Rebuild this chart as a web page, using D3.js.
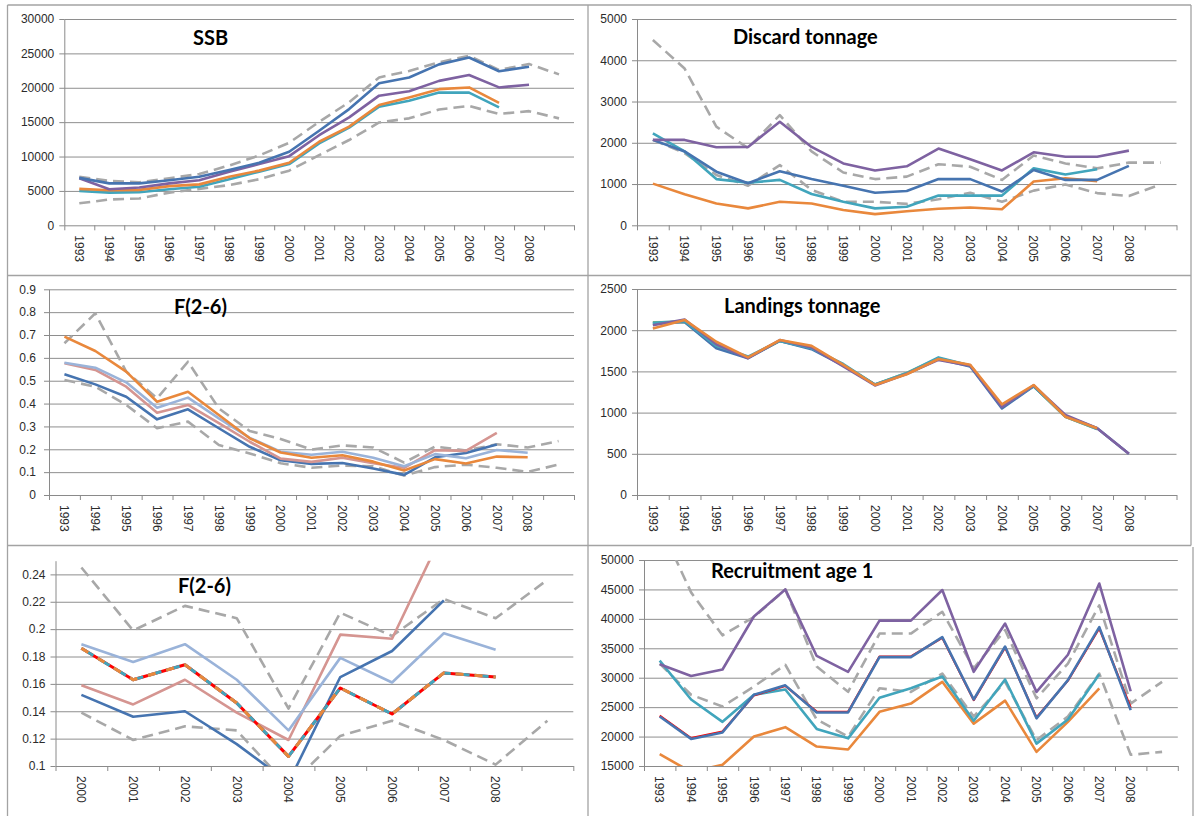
<!DOCTYPE html>
<html>
<head>
<meta charset="utf-8">
<script src="https://cdnjs.cloudflare.com/ajax/libs/d3/7.8.5/d3.min.js"></script>
<style>
  body { margin: 0; background: #fff; }
  svg { display: block; }
</style>
</head>
<body>
<svg id="chart" width="1199" height="816"></svg>
<script>
// categories
const years = ['1993','1994','1995','1996','1997','1998','1999','2000','2001','2002','2003','2004','2005','2006','2007','2008',''];
const yearsRecent = ['2000','2001','2002','2003','2004','2005','2006','2007','2008',''];

// tick values
const ssbTicks = [0, 5000, 10000, 15000, 20000, 25000, 30000];
const discardTicks = [0, 1000, 2000, 3000, 4000, 5000];
const fTicks = [0, 0.1, 0.2, 0.3, 0.4, 0.5, 0.6, 0.7, 0.8, 0.9];
const landingsTicks = [0, 500, 1000, 1500, 2000, 2500];
const fRecentTicks = [0.1, 0.12, 0.14, 0.16, 0.18, 0.2, 0.22, 0.24];
const recruitTicks = [15000, 20000, 25000, 30000, 35000, 40000, 45000, 50000];

// SSB
const ssbBlue   = [6900, 6100, 6100, 6550, 7050, 8050, 9100, 10700, 13750, 16900, 20650, 21500, 23400, 24400, 22400, 23050, null];
const ssbPurple = [6850, 5250, 5500, 6100, 6550, 7800, 8900, 10050, 13100, 15700, 18850, 19500, 21000, 21850, 20050, 20450, null];
const ssbOrange = [5300, 5100, 5150, 5700, 5950, 7050, 7950, 9100, 12150, 14350, 17500, 18600, 19800, 20050, 17800, null, null];
const ssbTeal   = [5000, 4750, 4800, 5250, 5600, 6700, 7800, 8900, 11900, 14200, 17250, 18100, 19300, 19300, 17150, null, null];
const ssbUpper  = [7050, 6450, 6250, 6850, 7450, 8700, 10150, 12000, 15050, 17900, 21500, 22450, 23700, 24650, 22600, 23450, 21950];
const ssbLower  = [3200, 3750, 3900, 4750, 5300, 5850, 6700, 7950, 10200, 12400, 14950, 15550, 16850, 17350, 16200, 16600, 15550];

// Discard tonnage
const discPurple = [2070, 2070, 1890, 1900, 2510, 1900, 1500, 1330, 1430, 1860, 1600, 1330, 1770, 1660, 1660, 1810, null];
const discBlue   = [2070, 1790, 1300, 1020, 1310, 1120, 960, 790, 830, 1120, 1120, 820, 1340, 1100, 1100, 1440, null];
const discTeal   = [2230, 1790, 1120, 1030, 1100, 760, 570, 410, 450, 720, 720, 720, 1380, 1230, 1360, null, null];
const discOrange = [1010, 750, 530, 410, 570, 530, 370, 270, 340, 400, 430, 390, 1060, 1140, 1070, null, null];
const discUpper  = [4490, 3800, 2390, 1870, 2670, 1790, 1280, 1120, 1180, 1480, 1420, 1100, 1690, 1500, 1380, 1520, 1520];
const discLower  = [2070, 1750, 1220, 960, 1460, 860, 570, 570, 520, 630, 790, 570, 840, 990, 780, 710, 990];

// F(2-6)
const fOrange    = [0.693, 0.630, 0.540, 0.408, 0.452, 0.350, 0.248, 0.186, 0.163, 0.174, 0.146, 0.107, 0.157, 0.138, 0.168, 0.165, null];
const fLightBlue = [0.579, 0.557, 0.493, 0.382, 0.426, 0.335, 0.250, 0.189, 0.176, 0.189, 0.163, 0.126, 0.179, 0.161, 0.197, 0.185, null];
const fPink      = [0.576, 0.547, 0.474, 0.360, 0.394, 0.314, 0.233, 0.159, 0.145, 0.163, 0.139, 0.119, 0.196, 0.193, 0.272, null, null];
const fBlue      = [0.528, 0.484, 0.430, 0.331, 0.375, 0.292, 0.211, 0.152, 0.136, 0.140, 0.116, 0.088, 0.165, 0.184, 0.221, null, null];
const fUpper     = [0.664, 0.795, 0.540, 0.423, 0.583, 0.379, 0.280, 0.245, 0.199, 0.217, 0.208, 0.142, 0.212, 0.195, 0.222, 0.208, 0.236];
const fLower     = [0.503, 0.474, 0.394, 0.292, 0.321, 0.219, 0.182, 0.139, 0.119, 0.129, 0.126, 0.085, 0.122, 0.133, 0.119, 0.101, 0.133];

// Landings tonnage
const landGreen  = [2095, 2100, 1800, 1670, 1870, 1780, 1580, 1340, 1480, 1660, 1570, 1080, 1320, 950, 800, null, null];
const landBlue   = [2080, 2100, 1780, 1660, 1870, 1770, 1570, 1340, 1470, 1650, 1560, 1050, 1320, 960, 810, 500, null];
const landTeal   = [2090, 2110, 1810, 1680, 1870, 1780, 1590, 1340, 1480, 1670, 1570, 1080, 1320, 950, 800, null, null];
const landPurple = [2060, 2130, 1830, 1660, 1880, 1790, 1560, 1330, 1470, 1640, 1570, 1070, 1330, 970, 810, 500, null];
const landOrange = [2020, 2125, 1860, 1670, 1880, 1810, 1580, 1335, 1465, 1650, 1580, 1100, 1335, 950, 810, null, null];

// Recruitment age 1
const recPurple = [32300, 30300, 31400, 40400, 45000, 33700, 31000, 39700, 39700, 44900, 31000, 39200, 27600, 33900, 46000, 27700, null];
const recRed    = [23550, 19750, 20850, 27000, 28600, 24250, 24200, 33600, 33600, 36800, 26200, 35150, 23250, 29500, 38400, 24900, null];
const recBlue   = [23400, 19600, 20700, 27100, 28700, 24100, 24100, 33500, 33500, 36900, 26300, 35300, 23100, 29600, 38600, 24500, null];
const recTeal   = [32900, 26300, 22500, 27100, 28000, 21300, 19700, 26600, 28200, 30200, 22700, 29700, 18800, 22900, 30600, null, null];
const recOrange = [17000, 14000, 15200, 20000, 21600, 18300, 17800, 24200, 25600, 29300, 22200, 26100, 17400, 22500, 28200, null, null];
const recUpper  = [56000, 44500, 37200, 40300, 45000, 31900, 27600, 37500, 37500, 41200, 31600, 38100, 26500, 32400, 42300, 25600, 29300];
const recLower  = [32400, 27100, 25100, 28500, 32200, 22900, 20000, 28200, 27600, 30700, 23400, 29300, 19400, 23400, 30700, 16900, 17400];

const C = {
  blue: '#4674B0', purple: '#7E62A1', orange: '#E9883C', teal: '#41A5BC',
  grey: '#A8A8A8', lightBlue: '#9AB3D9', pink: '#D59591', red: '#FF0000', green: '#9BBB59'
};
const gridColor = '#8E8E8E';
const axisColor = '#8A8A8A';
const LW = 2.6;
const labelFont = '"Liberation Sans", Arial, sans-serif';

const dashed = v => ({ values: v, color: C.grey, width: LW, dash: '11,6' });
const solid = (v, color, w) => ({ values: v, color: color, width: w || LW });

const panels = [
  { id: 'ssb', title: 'SSB', tx: 193, ty: 45, cats: years, box: [64.3, 574, 19, 225.3],
    domain: [0, 30000], ticks: ssbTicks, pad: 5,
    series: [dashed(ssbUpper), dashed(ssbLower), solid(ssbTeal, C.teal), solid(ssbOrange, C.orange),
             solid(ssbPurple, C.purple), solid(ssbBlue, C.blue)] },
  { id: 'disc', title: 'Discard tonnage', tx: 733, ty: 44, cats: years, box: [637, 1176.5, 19, 225.3],
    domain: [0, 5000], ticks: discardTicks, pad: 5,
    series: [dashed(discUpper), dashed(discLower), solid(discOrange, C.orange), solid(discTeal, C.teal),
             solid(discBlue, C.blue), solid(discPurple, C.purple)] },
  { id: 'f', title: 'F(2-6)', tx: 174, ty: 314, cats: years, box: [49, 574, 289.3, 495],
    domain: [0, 0.9], ticks: fTicks, pad: 8,
    series: [dashed(fUpper), dashed(fLower), solid(fBlue, C.blue), solid(fPink, C.pink),
             solid(fLightBlue, C.lightBlue), solid(fOrange, C.orange)] },
  { id: 'land', title: 'Landings tonnage', tx: 724, ty: 313, cats: years, box: [637, 1176.5, 289, 495],
    domain: [0, 2500], ticks: landingsTicks, pad: 5,
    series: [solid(landGreen, C.green), solid(landBlue, C.blue), solid(landTeal, C.teal),
             solid(landPurple, C.purple), solid(landOrange, C.orange)] },
  { id: 'frec', title: 'F(2-6)', tx: 178, ty: 593, cats: yearsRecent, box: [55.5, 573.3, 560.7, 766],
    domain: [0.1, 0.25], ticks: fRecentTicks, pad: 5,
    series: [dashed(fUpper.slice(7)), dashed(fLower.slice(7)), solid(fPink.slice(7), C.pink),
             solid(fLightBlue.slice(7), C.lightBlue), solid(fBlue.slice(7), C.blue),
             { values: fOrange.slice(7), color: C.red, width: 3 },
             { values: fOrange.slice(7), color: C.teal, width: 3, dash: '14,5' },
             { values: fOrange.slice(7), color: C.orange, width: 3, dash: '8,11' }] },
  { id: 'rec', title: 'Recruitment age 1', tx: 711, ty: 578, cats: years, box: [644, 1177.8, 560, 766],
    domain: [15000, 50000], ticks: recruitTicks, pad: 5,
    series: [dashed(recUpper), dashed(recLower), solid(recOrange, C.orange), solid(recTeal, C.teal),
             solid(recPurple, C.purple), solid(recRed, C.red, 2.2), solid(recBlue, C.blue)] }
];

const svg = d3.select('#chart');
svg.append('rect').attr('width', 1199).attr('height', 816).attr('fill', '#fff');

// panel frames
const frame = svg.append('g').attr('stroke', '#A3A3A3').attr('stroke-width', 1.3).attr('fill', 'none');
[[7.5, 5, 1191, 5], [7.5, 5, 7.5, 816], [1191, 5, 1191, 545.5], [588, 5, 588, 816],
 [7.5, 275.5, 1191, 275.5], [7.5, 545.5, 1191, 545.5], [1193, 547, 1193, 816]].forEach(l => {
  frame.append('line').attr('x1', l[0]).attr('y1', l[1]).attr('x2', l[2]).attr('y2', l[3]);
});

const fmt = d => String(d);

panels.forEach(p => {
  const [x0, x1, y0, y1] = p.box;
  const n = p.cats.length;
  const x = d3.scaleBand().domain(p.cats).range([x0, x1]);
  const xb = d3.scaleLinear().domain([0, n]).range([x0, x1]);
  const y = d3.scaleLinear().domain(p.domain).range([y1, y0]);
  const g = svg.append('g');

  // gridlines
  g.append('g')
    .attr('transform', `translate(${x0},0)`)
    .call(d3.axisLeft(y).tickValues(p.ticks.filter(v => v !== p.domain[0])).tickSize(-(x1 - x0)).tickFormat(''))
    .call(s => s.select('.domain').remove())
    .selectAll('line').attr('stroke', gridColor);

  // y axis
  const ya = g.append('g')
    .attr('transform', `translate(${x0},0)`)
    .call(d3.axisLeft(y).tickValues(p.ticks).tickSize(5).tickSizeOuter(0).tickPadding(p.pad).tickFormat(fmt));
  ya.select('.domain').attr('stroke', axisColor);
  ya.selectAll('line').attr('stroke', axisColor);
  ya.selectAll('text')
    .attr('font-family', labelFont)
    .attr('font-size', 12).attr('fill', '#2b2b2b');

  // x axis line + category boundary ticks
  const xa = g.append('g')
    .attr('transform', `translate(0,${y1})`)
    .call(d3.axisBottom(xb).tickValues(d3.range(n + 1)).tickSize(5).tickSizeOuter(0).tickFormat(''));
  xa.select('.domain').attr('stroke', axisColor);
  xa.selectAll('line').attr('stroke', axisColor);

  // x labels, rotated
  const xl = g.append('g')
    .attr('transform', `translate(0,${y1})`)
    .call(d3.axisBottom(x).tickSize(0).tickPadding(0));
  xl.select('.domain').remove();
  xl.selectAll('text')
    .attr('transform', 'rotate(90)')
    .attr('x', 10).attr('y', 0).attr('dy', '0.35em')
    .style('text-anchor', 'start')
    .attr('font-family', labelFont)
    .attr('font-size', 12).attr('fill', '#2b2b2b');

  // series
  g.append('clipPath').attr('id', 'clip-' + p.id)
    .append('rect').attr('x', x0).attr('y', y0).attr('width', x1 - x0).attr('height', y1 - y0);

  const line = d3.line()
    .defined(d => d != null)
    .x((d, i) => x(p.cats[i]) + x.bandwidth() / 2)
    .y(d => y(d));

  const lg = g.append('g').attr('clip-path', `url(#clip-${p.id})`);
  p.series.forEach(s => {
    lg.append('path')
      .datum(s.values)
      .attr('d', line)
      .attr('fill', 'none')
      .attr('stroke', s.color)
      .attr('stroke-width', s.width)
      .attr('stroke-dasharray', s.dash || null)
      .attr('stroke-linejoin', 'round');
  });

  // title
  g.append('text')
    .attr('x', p.tx).attr('y', p.ty)
    .attr('font-family', 'Lato, "Open Sans", sans-serif')
    .attr('font-weight', 'bold').attr('font-size', 20)
    .attr('fill', '#000')
    .text(p.title);
});
</script>
</body>
</html>
